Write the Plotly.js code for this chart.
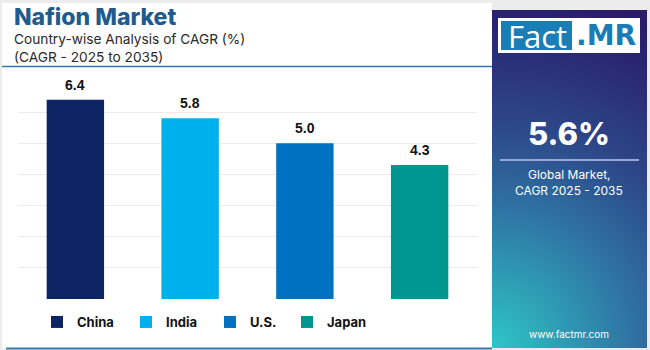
<!DOCTYPE html>
<html>
<head>
<meta charset="utf-8">
<script src="https://cdn.plot.ly/plotly-3.0.1.min.js"></script>
<style>html,body{margin:0;padding:0;background:#fff;}#chart{width:650px;height:350px;}</style>
</head>
<body>
<div id="chart"></div>
<script>
// ---- data ----
const countries = ["China", "India", "U.S.", "Japan"];
const cagrValues = [6.4, 5.8, 5.0, 4.3];
const barColors = ["#0c2461", "#00b0ec", "#0070c0", "#00968f"];
const titleText = "Nafion Market";
const subtitleLines = ["Country-wise Analysis of CAGR (%)", "(CAGR - 2025 to 2035)"];
const globalCagr = "5.6%";
const globalLabel = ["Global Market,", "CAGR 2025 - 2035"];
const website = "www.factmr.com";
const legendX = [57, 146, 230, 307];

// ---- geometry helpers (pixels -> paper) ----
const W = 650, H = 350;
const M = {l: 18, r: 173, t: 81, b: 51};
const PW = W - M.l - M.r, PH = H - M.t - M.b;
const X = px => (px - M.l) / PW;
const Y = py => (H - M.b - py) / PH;

const legendNames = ["legend", "legend2", "legend3", "legend4"];
const traces = countries.map((c, i) => ({
  type: "bar",
  name: c,
  x: [c],
  y: [cagrValues[i]],
  width: 0.5,
  marker: {color: barColors[i]},
  hoverinfo: "skip",
  legend: legendNames[i]
}));

// gradient panel as SVG image
const svg = `<svg xmlns="http://www.w3.org/2000/svg" width="155" height="338" viewBox="0 0 155 338">
<defs><radialGradient id="g" gradientUnits="userSpaceOnUse" cx="0" cy="338" r="375">
<stop offset="0" stop-color="#2ec6c7"/>
<stop offset="0.38" stop-color="#2f72a2"/>
<stop offset="0.58" stop-color="#2d4a8b"/>
<stop offset="0.85" stop-color="#2a2573"/>
<stop offset="1" stop-color="#2a1866"/>
</radialGradient></defs>
<rect width="155" height="338" fill="url(#g)"/></svg>`;
const svgUri = "data:image/svg+xml;base64," + btoa(svg);

const shapes = [
  {type: "rect", xref: "paper", yref: "paper", x0: X(2), x1: X(492), y0: Y(349), y1: Y(3), fillcolor: "#ffffff", line: {width: 0}, layer: "below"},
  {type: "line", xref: "paper", yref: "paper", x0: X(2), x1: X(492), y0: Y(66.5), y1: Y(66.5), line: {color: "#2e78b7", width: 1.5}},
  {type: "line", xref: "paper", yref: "paper", x0: X(6), x1: X(492), y0: Y(348.5), y1: Y(348.5), line: {color: "#3a78b0", width: 2}},
  {type: "rect", xref: "paper", yref: "paper", x0: X(498), x1: X(640), y0: Y(53), y1: Y(18), fillcolor: "#ffffff", line: {width: 0}},
  {type: "rect", xref: "paper", yref: "paper", x0: X(501), x1: X(572), y0: Y(50), y1: Y(21), fillcolor: "#1a7db5", line: {width: 0}},
  {type: "line", xref: "paper", yref: "paper", x0: X(500), x1: X(639), y0: Y(160), y1: Y(160), line: {color: "#9aa6d6", width: 2}}
];

const images = [{
  source: svgUri, xref: "paper", yref: "paper",
  x: X(492), y: Y(10), sizex: X(647) - X(492), sizey: Y(10) - Y(348),
  xanchor: "left", yanchor: "top", sizing: "stretch", layer: "below"
}];

const valueLabels = countries.map((c, i) => ({
  xref: "x", yref: "y", x: c, y: cagrValues[i], text: cagrValues[i].toFixed(1),
  showarrow: false, xanchor: "center", yanchor: "middle", yshift: 15,
  font: {family: "Liberation Sans, Arial, sans-serif", size: 14, color: "#111", weight: 700}
}));

const annotations = [
  {text: titleText, x: X(12), y: Y(17), xanchor: "left", yanchor: "middle",
   font: {family: "Inter, sans-serif", size: 23, color: "#1f5b8e", weight: 800}},
  {text: subtitleLines[0], x: X(12), y: Y(39), xanchor: "left", yanchor: "middle",
   font: {family: "Inter, sans-serif", size: 13.7, color: "#2a2a2a"}},
  {text: subtitleLines[1], x: X(12), y: Y(57), xanchor: "left", yanchor: "middle",
   font: {family: "Inter, sans-serif", size: 13.7, color: "#2a2a2a"}},
  {text: "Fact", x: X(537), y: Y(36), xanchor: "center", yanchor: "middle",
   font: {family: "Open Sans, sans-serif", size: 31, color: "#ffffff"}},
  {text: ".MR", x: X(606), y: Y(35.5), xanchor: "center", yanchor: "middle",
   font: {family: "DejaVu Sans, sans-serif", size: 28, color: "#1a7db5", weight: 700}},
  {text: globalCagr, x: X(569), y: Y(133), xanchor: "center", yanchor: "middle",
   font: {family: "Inter, sans-serif", size: 31, color: "#ffffff", weight: 800}},
  {text: globalLabel[0], x: X(569), y: Y(174), xanchor: "center", yanchor: "middle",
   font: {family: "Inter, sans-serif", size: 12, color: "#ffffff"}},
  {text: globalLabel[1], x: X(569), y: Y(190), xanchor: "center", yanchor: "middle",
   font: {family: "Inter, sans-serif", size: 12, color: "#ffffff"}},
  {text: website, x: X(569), y: Y(334), xanchor: "center", yanchor: "middle",
   font: {family: "Inter, sans-serif", size: 10, color: "#ffffff"}}
].map(a => Object.assign({xref: "paper", yref: "paper", showarrow: false}, a)).concat(valueLabels);

const layout = {
  width: W, height: H,
  margin: M,
  paper_bgcolor: "#ececec",
  plot_bgcolor: "rgba(0,0,0,0)",
  barmode: "overlay",
  showlegend: true,
  xaxis: {type: "category", categoryarray: countries, showticklabels: false, showgrid: false, zeroline: false, showline: false, ticks: ""},
  yaxis: {range: [0, 7], dtick: 1, showticklabels: false, gridcolor: "#ececec", gridwidth: 1, zeroline: false, showline: false, ticks: ""},
  shapes: shapes,
  images: images,
  annotations: annotations
};
legendNames.forEach((ln, i) => {
  layout[ln] = {
    orientation: "h", xref: "container", yref: "container",
    x: (legendX[i] - 20) / W, y: 1 - 322 / H, xanchor: "left", yanchor: "middle",
    bgcolor: "rgba(0,0,0,0)", borderwidth: 0,
    font: {family: "Inter, sans-serif", size: 13, color: "#111", weight: 700},
    itemclick: false, itemdoubleclick: false
  };
});

Plotly.newPlot("chart", traces, layout, {displayModeBar: false, staticPlot: true});
</script>
</body>
</html>
